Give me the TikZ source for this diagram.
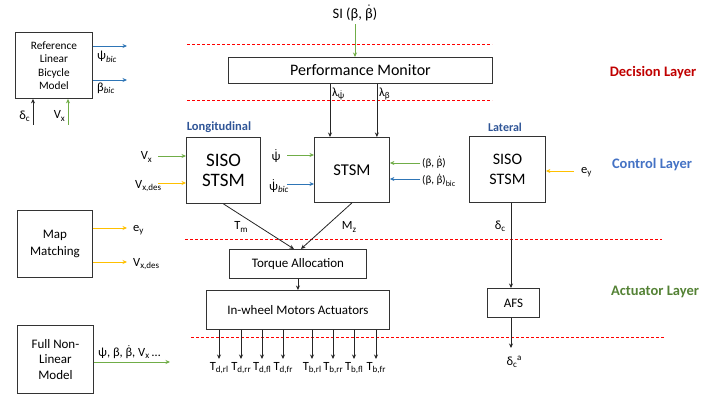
\documentclass[tikz,border=0pt]{standalone}
\usepackage{fontspec}
\setmainfont{Carlito}
\usepackage{xcolor}
\usetikzlibrary{calc}
\usetikzlibrary{arrows.meta}

\definecolor{sigGreen}{RGB}{112,173,71}
\definecolor{sigYellow}{RGB}{255,192,0}
\definecolor{sigBlue}{RGB}{46,117,182}
\definecolor{layerRed}{RGB}{192,0,0}
\definecolor{layerBlue}{RGB}{68,114,196}
\definecolor{layerGreen}{RGB}{84,130,53}
\definecolor{sideBlue}{RGB}{47,85,151}

\newcommand{\dt}[1]{\ensuremath{\dot{\mbox{#1}}}}
\newcommand{\sub}[1]{\raisebox{-0.4ex}{\fontsize{9}{10}\selectfont #1}}
\newcommand{\supr}[1]{\raisebox{0.8ex}{\fontsize{9}{10}\selectfont #1}}

\tikzset{
  box/.style={draw=black!80, line width=0.9pt, anchor=north west, align=center, inner sep=0pt},
  lbl/.style={inner sep=1pt, font=\fontsize{12.5}{14}\selectfont},
  sig/.style={-{Stealth[length=4.5pt,width=4pt]}, line width=0.8pt, black!85},
  layerline/.style={red, dash pattern=on 3pt off 2pt, line width=0.8pt},
  title/.style={font=\fontsize{14.5}{17}\selectfont\bfseries},
}

\begin{document}
\begin{tikzpicture}[x=1pt, y=-1pt]
    \useasboundingbox (0,0) rectangle (721,396);

    % layers
    \draw[layerline] (187,44) -- (492,44);
    \draw[layerline] (187,100) -- (492,100);
    \draw[layerline] (185,239) -- (662,239);
    \draw[layerline] (191,337) -- (665,337);
    \node[title, text=layerRed] (declayer) at (653,73) {Decision Layer};
    \node[title, text=layerBlue] (ctrllayer) at (652,165) {Control Layer};
    \node[title, text=layerGreen] (actlayer) at (655,292) {Actuator Layer};

    % reference model
    \node[box, minimum width=77, minimum height=66, font=\fontsize{11.3}{13.5}\selectfont] (refm) at (15,32) {Reference\\Linear\\Bicycle\\Model};
    \coordinate (psiend) at (127,46);
    \coordinate (betend) at (127,80);
    \draw[sig, sigBlue] (refm.east |- psiend) -- (psiend);
    \draw[sig, sigBlue] (refm.east |- betend) -- (betend);
    \node[lbl, anchor=west] (psibic) at (96,57) {ψ\sub{\itshape bic}};
    \node[lbl, anchor=west] (betbic) at (96,88) {β\sub{\itshape bic}};
    \coordinate (dcin) at (33,125);
    \coordinate (vxin) at (68,125);
    \draw[sig] (dcin) -- (dcin |- refm.south);
    \draw[sig, sigGreen] (vxin) -- (vxin |- refm.south);
    \node[lbl, anchor=east] (dclbl) at (31,116) {δ\sub{c}};
    \node[lbl, anchor=east] (vxlbl) at (66,116) {V\sub{x}};

    % decision
    \node[font=\fontsize{14.5}{17}\selectfont] (si) at (355,13) {SI (β, \dt{β})};
    \node[box, minimum width=264, minimum height=26, font=\fontsize{16}{19}\selectfont] (pm) at (228,57) {Performance Monitor};
    \draw[sig, sigGreen] (si.south) -- (si.south |- pm.north);

    % control
    \node[font=\fontsize{12.5}{14}\selectfont\bfseries, text=sideBlue] (lonlbl) at (219,127) {Longitudinal};
    \node[box, minimum width=74, minimum height=66, font=\fontsize{19}{20}\selectfont] (siso) at (186,137) {SISO\\STSM};
    \node[box, minimum width=75, minimum height=65, font=\fontsize{16.5}{19}\selectfont] (stsm) at (314,137) {STSM};
    \node[font=\fontsize{12}{14}\selectfont\bfseries, text=sideBlue] (latlbl) at (505,127) {Lateral};
    \node[box, minimum width=76, minimum height=66, font=\fontsize{16}{19.5}\selectfont] (lat) at (469,136) {SISO\\STSM};

    \coordinate (lpsi) at ($(stsm.north west)+(16,0)$);
    \coordinate (lbet) at ($(stsm.north east)+(-13,0)$);
    \draw[sig] (lpsi |- pm.south) -- (lpsi);
    \draw[sig] (lbet |- pm.south) -- (lbet);
    \node[lbl, anchor=west] (lpsilbl) at (331,94) {λ\sub{\dt{ψ}}};
    \node[lbl, anchor=west] (lbetlbl) at (378,94) {λ\sub{β}};

    \coordinate (vxa) at (158,156);
    \coordinate (vxd) at (158,183);
    \draw[sig, sigGreen] (vxa) -- (vxa -| siso.west);
    \draw[sig, sigYellow] (vxd) -- (vxd -| siso.west);
    \node[lbl, anchor=east] (vxalbl) at (153,157) {V\sub{x}};
    \node[lbl, anchor=west] (vxdlbl) at (134,186) {V\sub{x,des}};

    \coordinate (psd) at (287,155);
    \coordinate (psb) at (287,184);
    \draw[sig, sigGreen] (psd) -- (psd -| stsm.west);
    \draw[sig, sigBlue] (psb) -- (psb -| stsm.west);
    \node[lbl] (psdlbl) at (276,156) {\dt{ψ}};
    \node[lbl, anchor=west] (psblbl) at (268,186) {\dt{ψ}\sub{\itshape bic}};

    \coordinate (bb) at (420,163);
    \coordinate (bbb) at (420,179);
    \draw[sig, sigGreen] (bb) -- (bb -| stsm.east);
    \draw[sig, sigBlue] (bbb) -- (bbb -| stsm.east);
    \node[lbl, anchor=west, font=\fontsize{11}{13}\selectfont] (bblbl) at (421,162) {(β, \dt{β})};
    \node[lbl, anchor=west, font=\fontsize{11}{13}\selectfont] (bbblbl) at (421,180) {(β, \dt{β})\raisebox{-0.4ex}{\fontsize{8}{9}\selectfont bic}};

    \coordinate (eyl) at (574,171);
    \draw[sig, sigYellow] (eyl) -- (eyl -| lat.east);
    \node[lbl, anchor=west] (eylbl) at (580,172) {e\sub{y}};

    % actuators
    \node[box, minimum width=137, minimum height=29, font=\fontsize{13}{15}\selectfont] (ta) at (229,249) {Torque Allocation};
    \node[box, minimum width=183, minimum height=39, font=\fontsize{13}{15}\selectfont] (iwm) at (206,290) {In-wheel Motors Actuators};
    \draw[sig] (siso.south) -- ($(ta.north)+(-4,0)$);
    \draw[sig] (stsm.south) -- ($(ta.north)+(3,0)$);
    \node[lbl] (tmlbl) at (241,227) {T\sub{m}};
    \node[lbl] (mzlbl) at (349,227) {M\sub{z}};
    \draw[sig] (ta.south) -- (iwm.north);
    \foreach \xx/\lab [count=\i] in {219/{d,rl},241/{d,rr},262/{d,fl},283/{d,fr},312/{b,rl},333/{b,rr},354/{b,fl},376/{b,fr}}{
        \node[lbl, anchor=north, inner sep=0pt] (tq\i) at (\xx,362) {T\sub{\lab}};
        \draw[sig] (iwm.south -| tq\i) -- (\xx,359);
    }

    \node[box, minimum width=52, minimum height=29, font=\fontsize{13}{15}\selectfont] (afs) at (487,288) {AFS};
    \coordinate (dcx) at (511,0);
    \coordinate (dca) at (511,348);
    \draw[sig] (dcx |- lat.south) -- (dcx |- afs.north);
    \draw[sig] (dcx |- afs.south) -- (dca);
    \node[lbl] (dclat) at (500,226) {δ\sub{c}};
    \node[lbl] (dcalbl) at (514,362) {δ\sub{c}\supr{a}};

    % map matching and full model
    \node[box, minimum width=75, minimum height=67, font=\fontsize{13}{16.5}\selectfont] (mm) at (17,210) {Map\\Matching};
    \coordinate (eyend) at (127,228);
    \coordinate (vxdend) at (127,262);
    \draw[sig, sigYellow] (mm.east |- eyend) -- (eyend);
    \draw[sig, sigYellow] (mm.east |- vxdend) -- (vxdend);
    \node[lbl, anchor=west] (eymm) at (132,230) {e\sub{y}};
    \node[lbl, anchor=west] (vxdmm) at (132,264) {V\sub{x,des}};

    \node[box, minimum width=76, minimum height=68, font=\fontsize{13}{15.5}\selectfont] (fnl) at (17,325) {Full Non-\\Linear\\Model};
    \coordinate (stend) at (170,362);
    \draw[sig, sigGreen] (fnl.east |- stend) -- (stend);
    \node[lbl, anchor=south west] (stlbl) at (97,360) {ψ, β, \dt{β}, V\sub{x} …};
\end{tikzpicture}
\end{document}
